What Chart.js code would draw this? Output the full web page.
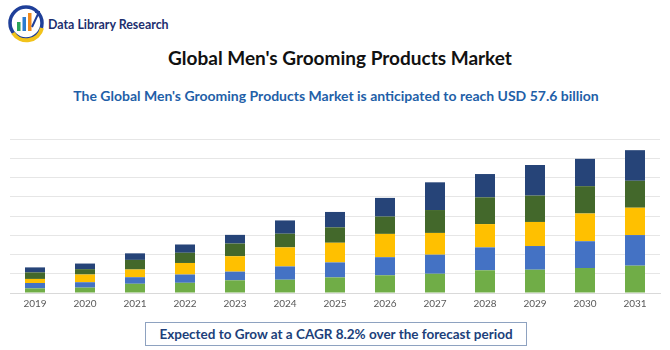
<!DOCTYPE html>
<html>
<head>
<meta charset="utf-8">
<script src="https://cdn.jsdelivr.net/npm/chart.js@4/dist/chart.umd.min.js"></script>
<style>
  body { margin: 0; width: 670px; height: 350px; background: #fff; position: relative; overflow: hidden; font-family: Lato, "Open Sans", sans-serif; }
  #logoText { position: absolute; left: 48px; top: 17px; font-size: 12.4px; font-weight: bold; color: #1d2f6f; }
  #title { position: absolute; left: 0; width: 680px; top: 46px; text-align: center; font-size: 19px; font-weight: bold; color: #111; }
  #subtitle { position: absolute; left: 0; width: 672px; top: 87px; text-align: center; font-size: 14px; font-weight: bold; color: #1f5fa8; }
  #cagr { position: absolute; left: 145px; top: 322px; width: 382px; height: 24px; border: 1px solid #8ea2c0; box-sizing: border-box; text-align: center; line-height: 22px; font-size: 13.5px; font-weight: bold; color: #203f7a; }
  #chartBox { position: absolute; left: 0; top: 126px; }
</style>
</head>
<body>
<svg style="position:absolute;left:6px;top:3px" width="40" height="40" viewBox="0 0 40 40">
  <circle cx="20" cy="20" r="16" fill="none" stroke="#1f3f99" stroke-width="3.5"/>
  <path d="M7 30 A16 16 0 0 0 36 25" fill="none" stroke="#f2c31b" stroke-width="4"/>
  <rect x="11" y="19" width="3.5" height="9" fill="#2aa55a"/>
  <rect x="16.5" y="14" width="3.5" height="14" fill="#2b7bd0"/>
  <rect x="22" y="10" width="3.5" height="18" fill="#f08a1c"/>
  <path d="M26 24 L33 9 M29 9 L33 9 L33 13" fill="none" stroke="#1f3f99" stroke-width="2"/>
</svg>
<div id="logoText">Data Library Research</div>
<div id="title">Global Men's Grooming Products Market</div>
<div id="subtitle">The Global Men's Grooming Products Market is anticipated to reach USD 57.6 billion</div>
<div id="chartBox"><canvas id="chart" width="670" height="189"></canvas></div>
<div id="cagr">Expected to Grow at a CAGR 8.2% over the forecast period</div>
<script>
// categorias (anos)
const years = ['2019', '2020', '2021', '2022', '2023', '2024', '2025', '2026', '2027', '2028', '2029', '2030', '2031'];
// segmentos de abajo hacia arriba
const seriesA = [2.4, 2.8, 4.8, 5.3, 6.6, 6.9, 8.1, 9.2, 10.0, 11.8, 12.1, 13.0, 14.2];
const seriesB = [2.8, 2.8, 3.4, 4.3, 4.5, 6.9, 7.8, 9.4, 9.9, 11.9, 12.3, 13.9, 15.9];
const seriesC = [2.1, 4.0, 4.0, 6.0, 8.0, 9.9, 10.2, 12.1, 11.3, 12.1, 12.5, 14.4, 14.2];
const seriesD = [3.4, 2.8, 5.0, 5.3, 6.6, 7.1, 8.0, 9.0, 11.9, 13.9, 13.7, 14.2, 14.0];
const seriesE = [2.6, 2.9, 3.4, 4.3, 4.5, 6.9, 8.0, 9.7, 14.4, 12.1, 15.9, 14.2, 15.9];
const seriesColors = ['#70AD47', '#4472C4', '#FFC000', '#43682B', '#264478'];

const allSeries = [seriesA, seriesB, seriesC, seriesD, seriesE];
const datasets = allSeries.map((vals, i) => ({
    data: vals,
    backgroundColor: seriesColors[i],
    borderWidth: 0,
    barPercentage: 0.8,
    categoryPercentage: 0.5
}));

new Chart(document.getElementById('chart').getContext('2d'), {
    type: 'bar',
    data: { labels: years, datasets: datasets },
    options: {
        responsive: false,
        animation: false,
        layout: { padding: { left: 10, right: 10, top: 13, bottom: 0 } },
        plugins: { legend: { display: false }, tooltip: { enabled: false } },
        scales: {
            x: {
                stacked: true,
                grid: { display: false, drawTicks: false },
                border: { color: '#d9d9d9' },
                ticks: { color: '#595959', font: { size: 10, family: 'Lato' }, padding: 5 }
            },
            y: {
                stacked: true,
                min: 0,
                max: 80,
                ticks: { display: false, stepSize: 10 },
                grid: { color: '#e6e6e6', drawTicks: false },
                border: { display: false }
            }
        }
    }
});
</script>
</body>
</html>
